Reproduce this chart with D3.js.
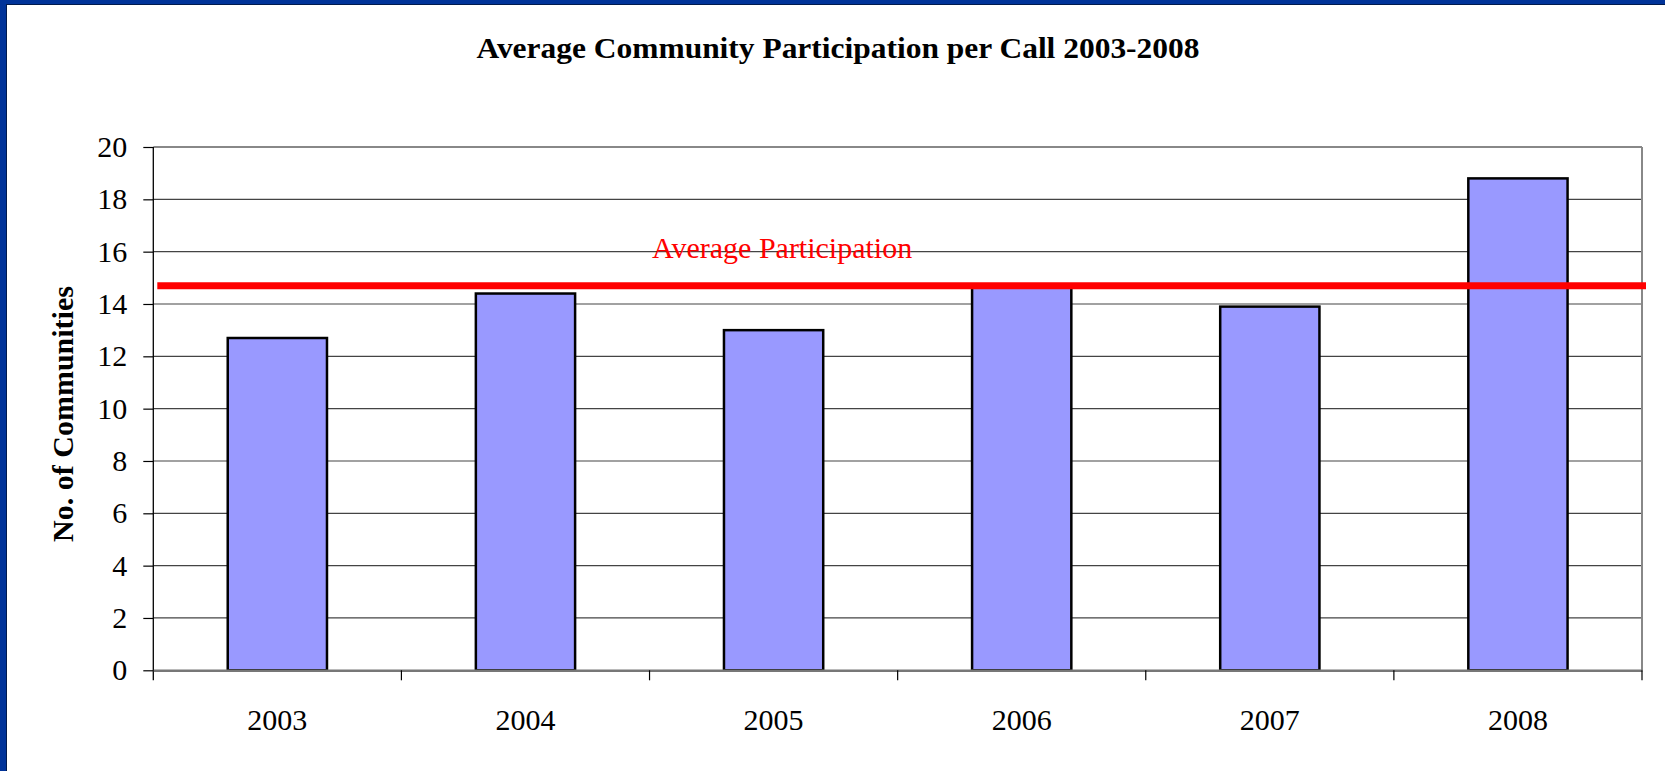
<!DOCTYPE html>
<html>
<head>
<meta charset="utf-8">
<script src="https://cdn.jsdelivr.net/npm/d3@7"></script>
<style>
  html, body { margin: 0; padding: 0; background: #fff; }
  svg { display: block; }
  text { font-family: "Liberation Serif", "Times New Roman", serif; }
</style>
</head>
<body>
<svg id="chart" width="1665" height="771"></svg>
<script>
const categories = ["2003", "2004", "2005", "2006", "2007", "2008"];
const values = [12.7, 14.4, 13.0, 14.7, 13.9, 18.8];
const averageValue = [14.7];
const averageLabel = ["Average Participation"];
const yTicks = [0, 2, 4, 6, 8, 10, 12, 14, 16, 18, 20];
const titleText = ["Average Community Participation per Call 2003-2008"];
const yAxisTitle = ["No. of Communities"];

(function () {
const W = 1665, H = 771;
const svg = d3.select("#chart");

// frame
svg.append("rect").attr("x", 0).attr("y", 0).attr("width", W).attr("height", H).attr("fill", "#003399");
svg.append("rect").attr("x", 7).attr("y", 5).attr("width", W - 7).attr("height", H - 5).attr("fill", "#ffffff");
svg.append("line").attr("x1", 6.5).attr("x2", 6.5).attr("y1", 5).attr("y2", H).attr("stroke", "#001a4d").attr("stroke-width", 1);
svg.append("line").attr("x1", 6).attr("x2", W).attr("y1", 4.5).attr("y2", 4.5).attr("stroke", "#001a4d").attr("stroke-width", 1);

const pLeft = 153.3, pRight = 1642, pTop = 147, pBottom = 670.3;

const x = d3.scaleBand().domain(categories).range([pLeft, pRight]).paddingInner(0).paddingOuter(0);
const y = d3.scaleLinear().domain([0, 20]).range([pBottom, pTop]);
const barW = x.bandwidth() * 0.4;

// gridlines
svg.append("g").selectAll("line").data(yTicks.filter(d => d > 0 && d < 20)).join("line")
  .attr("x1", pLeft).attr("x2", pRight)
  .attr("y1", d => y(d)).attr("y2", d => y(d))
  .attr("stroke", "#444").attr("stroke-width", 1.2);

// plot border top & right
svg.append("line").attr("x1", pLeft).attr("x2", pRight).attr("y1", y(20)).attr("y2", y(20)).attr("stroke", "#888").attr("stroke-width", 2);
svg.append("line").attr("x1", pRight).attr("x2", pRight).attr("y1", y(20)).attr("y2", pBottom).attr("stroke", "#888").attr("stroke-width", 2);

// bars
svg.append("g").selectAll("rect").data(values).join("rect")
  .attr("x", (d, i) => x(categories[i]) + (x.bandwidth() - barW) / 2)
  .attr("y", d => y(d))
  .attr("width", barW)
  .attr("height", d => y(0) - y(d))
  .attr("fill", "#9999FF")
  .attr("stroke", "#000")
  .attr("stroke-width", 2.5);

// y axis
const yAxis = d3.axisLeft(y).tickValues(yTicks).tickSize(10).tickPadding(16).tickSizeOuter(0);
const gy = svg.append("g").attr("transform", `translate(${pLeft},0)`).call(yAxis);
gy.select(".domain").attr("stroke", "#000").attr("stroke-width", 1.3).attr("d", `M0,${pTop}V${pBottom + 10}`);
gy.selectAll(".tick line").attr("stroke", "#000").attr("stroke-width", 1.2);
gy.selectAll(".tick text").attr("font-size", 30).attr("fill", "#000");

// x axis
const xAxis = d3.axisBottom(x).tickSize(0).tickPadding(38).tickSizeOuter(0);
const gx = svg.append("g").attr("transform", `translate(0,${pBottom})`).call(xAxis);
gx.select(".domain").attr("stroke", "#777").attr("stroke-width", 2.5);
gx.selectAll(".tick text").attr("font-size", 30).attr("fill", "#000");
const bounds = categories.map(c => x(c)).slice(1).concat([pRight]);
gx.append("g").selectAll("line").data(bounds).join("line")
  .attr("x1", d => d).attr("x2", d => d).attr("y1", 0).attr("y2", 10)
  .attr("stroke", "#000").attr("stroke-width", 1.2);

// average line
svg.append("line").attr("x1", pLeft + 4).attr("x2", pRight + 4)
  .attr("y1", y(averageValue[0])).attr("y2", y(averageValue[0]))
  .attr("stroke", "#FF0000").attr("stroke-width", 7);
svg.append("text").attr("x", 652).attr("y", 258)
  .attr("font-size", 30).attr("fill", "#FF0000")
  .text(averageLabel[0]);

// title
svg.append("text").attr("x", 838).attr("y", 58).attr("text-anchor", "middle")
  .attr("font-size", 30).attr("font-weight", "bold").attr("fill", "#000")
  .attr("textLength", 723).attr("lengthAdjust", "spacingAndGlyphs")
  .text(titleText[0]);

// y axis title
svg.append("text").attr("transform", `translate(73,414) rotate(-90)`).attr("text-anchor", "middle")
  .attr("font-size", 30).attr("font-weight", "bold").attr("fill", "#000")
  .text(yAxisTitle[0]);
})();
</script>
</body>
</html>
